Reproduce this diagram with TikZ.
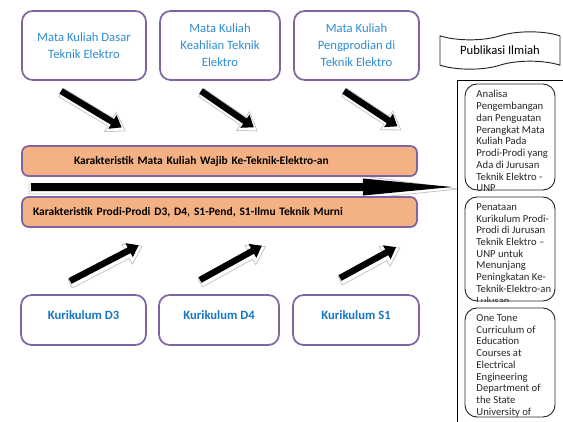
\documentclass[tikz,border=0pt]{standalone}
\usepackage{fontspec}
\setmainfont{Carlito}
\usetikzlibrary{calc,shapes.symbols}

\definecolor{boxpurple}{RGB}{128,100,162}
\definecolor{barorange}{RGB}{244,177,131}
\definecolor{mkblue}{RGB}{46,140,210}
\definecolor{kurblue}{RGB}{22,118,200}

% block arrow: tail, angle, length (pt)
\newcommand{\blockarrow}[3]{%
  \begin{scope}[shift={(#1)}]
    \filldraw[arrback, shift={(1pt,-1.6pt)}, rotate=#2]
      (-1pt,3.6pt) -- ({#3pt-11pt},3.6pt) -- ({#3pt-11pt},8.5pt) -- ({#3pt+2pt},0pt)
      -- ({#3pt-11pt},-8.5pt) -- ({#3pt-11pt},-3.6pt) -- (-1pt,-3.6pt) -- cycle;
    \fill[arrfront, rotate=#2]
      (0pt,2.4pt) -- ({#3pt-8pt},2.4pt) -- ({#3pt-8pt},6pt) -- (#3pt,0pt)
      -- ({#3pt-8pt},-6pt) -- ({#3pt-8pt},-2.4pt) -- (0pt,-2.4pt) -- cycle;
  \end{scope}}

\begin{document}
\begin{tikzpicture}[x=0.75pt,y=-0.75pt,line join=round,
    mkbox/.style={draw=boxpurple, line width=1.3pt, rounded corners=8pt, fill=white,
      align=center, text=mkblue, font=\fontsize{9.5}{12.75}\selectfont,
      minimum height=51.75pt, inner sep=2pt},
    kurbox/.style={draw=boxpurple, line width=1.3pt, rounded corners=8pt, fill=white,
      text=kurblue, font=\fontsize{9.5}{11}\selectfont\bfseries, minimum height=37.5pt,
      text depth=7.5pt},
    bar/.style={draw=boxpurple, line width=1.3pt, rounded corners=5pt, fill=barorange,
      minimum height=22.5pt, align=left, font=\fontsize{8.6}{10}\selectfont\bfseries},
    pubbox/.style={draw=black!85, line width=0.7pt, rounded corners=9pt,
      minimum width=67.5pt, inner sep=0pt},
    pubtext/.style={anchor=north west, align=left, inner sep=0pt, draw=none,
      minimum width=0pt, minimum height=0pt,
      font=\fontsize{8}{8.8}\selectfont, text=black!85},
    arrback/.style={fill=white, draw=gray!45, line width=0.6pt},
    arrfront/.style={fill=black}]

    \useasboundingbox (0,0) rectangle (563,421);
    \clip (0,0) rectangle (563,421);

    % Top boxes
    \node[mkbox, minimum width=93pt] (mk1) at (84,45.5) {Mata Kuliah Dasar\\Teknik Elektro};
    \node[mkbox, minimum width=90pt] (mk2) at (220,45.5) {Mata Kuliah\\Keahlian Teknik\\Elektro};
    \node[mkbox, minimum width=93.75pt] (mk3) at (356.5,45.5) {Mata Kuliah\\Pengprodian di\\Teknik Elektro};

    % Arrows down to the bars
    \coordinate (a1) at (61,91);
    \coordinate (a2) at (201,91);
    \coordinate (a3) at (344,91);
    \blockarrow{a1}{-31}{53}
    \blockarrow{a2}{-34.5}{48}
    \blockarrow{a3}{-33.5}{48}

    % Big arrow to the publications
    \filldraw[arrback] (29,184) -- (362,184) -- (362,176) -- (458,189) -- (362,199)
      -- (362,194) -- (29,194) -- cycle;
    \fill[arrfront] (31,183) -- (363,183) -- (363,178.5) -- (452,187) -- (363,195.5)
      -- (363,191) -- (31,191) -- cycle;

    % Bars
    \node[bar, text width=218.25pt, inner xsep=39pt] (wajib) at (219.5,161)
      {Karakteristik Mata Kuliah Wajib Ke-Teknik-Elektro-an};
    \node[bar, text width=279.75pt, inner xsep=8.25pt] (prodi) at (219.5,212)
      {Karakteristik Prodi-Prodi D3, D4, S1-Pend, S1-Ilmu Teknik Murni};

    % Arrows up from the curricula
    \coordinate (b1) at (70,281);
    \coordinate (b2) at (200,280);
    \coordinate (b3) at (340,278);
    \blockarrow{b1}{27.5}{58}
    \blockarrow{b2}{29}{53}
    \blockarrow{b3}{28.8}{48}

    % Bottom boxes
    \node[kurbox, minimum width=93.75pt] (kd3) at (83.5,320) {Kurikulum D3};
    \node[kurbox, minimum width=90pt] (kd4) at (219,320) {Kurikulum D4};
    \node[kurbox, minimum width=94.5pt] (ks1) at (356,320) {Kurikulum S1};

    % Publications
    \node[tape, draw=black!85, line width=0.7pt, minimum width=90pt, minimum height=28pt,
      tape bend height=6pt, font=\fontsize{9.5}{11}\selectfont] (pubtitle) at (500,50.5)
      {Publikasi Ilmiah};
    \node[draw, line width=0.8pt, anchor=north west, minimum width=120pt,
      minimum height=270pt, inner sep=0pt] (frame) at (457,80) {};

    \node[pubbox, minimum height=79.5pt, path picture={
        \node[pubtext] at ($(path picture bounding box.north west)+(8.25pt,-4.5pt)$)
          {Analisa\\Pengembangan\\dan Penguatan\\Perangkat Mata\\Kuliah Pada\\Prodi-Prodi yang\\Ada di Jurusan\\Teknik Elektro -\\UNP};
      }] (pa) at (510,137) {};
    \node[pubbox, minimum height=78pt, path picture={
        \node[pubtext] at ($(path picture bounding box.north west)+(8.25pt,-4.5pt)$)
          {Penataan\\Kurikulum Prodi-\\Prodi di Jurusan\\Teknik Elektro –\\UNP untuk\\Menunjang\\Peningkatan Ke-\\Teknik-Elektro-an\\Lulusan};
      }] (pb) at (510,249) {};
    \node[pubbox, minimum height=81.75pt, path picture={
        \node[pubtext] at ($(path picture bounding box.north west)+(8.25pt,-4.5pt)$)
          {One Tone\\Curriculum of\\Education\\Courses at\\Electrical\\Engineering\\Department of\\the State\\University of};
      }] (pc) at (510,362.5) {};

\end{tikzpicture}
\end{document}
